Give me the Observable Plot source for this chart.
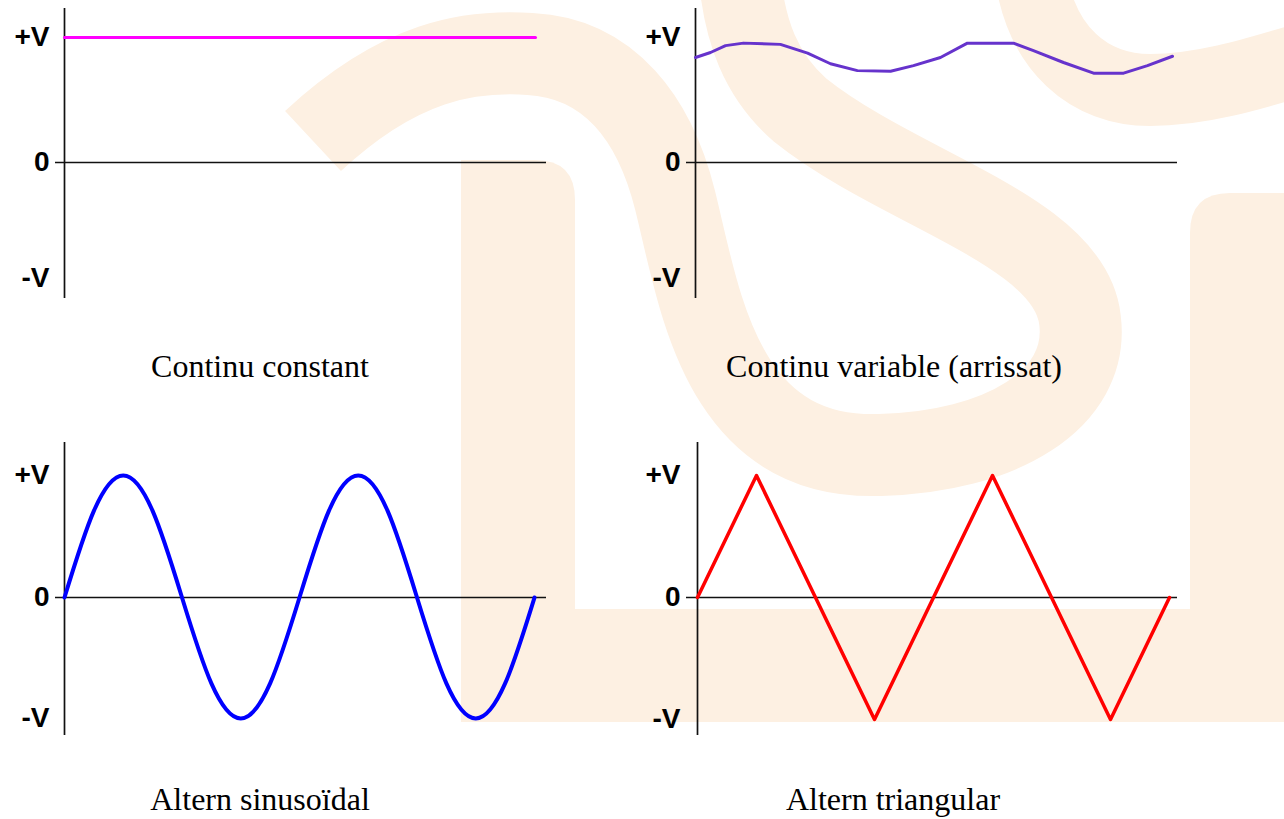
<!DOCTYPE html>
<html>
<head>
<meta charset="utf-8">
<script src="https://cdn.jsdelivr.net/npm/d3@7"></script>
<script src="https://cdn.jsdelivr.net/npm/@observablehq/plot@0.6"></script>
<style>
  html, body { margin: 0; padding: 0; background: #ffffff; }
  #root { position: relative; width: 1284px; height: 819px; overflow: hidden; background: #ffffff; }
  #root > svg.bg { position: absolute; left: 0; top: 0; }
  .panel { position: absolute; }
  .panel svg { overflow: visible; }
  .panel [aria-label="y-axis tick label"] text { font-family: "Liberation Sans", Arial, sans-serif; font-weight: bold; font-size: 28px; fill: #000; }
  .caption { font-family: "Liberation Serif", "Times New Roman", serif; font-size: 32px; fill: #000; }
</style>
</head>
<body>
<div id="root"></div>
<script>
// ---- data ----
const panelTitles = ["Continu constant", "Continu variable (arrissat)", "Altern sinusoïdal", "Altern triangular"];
const tickValues = [1, 0, -1];
const tickLabels = ["+V", "0", "-V"];

// Continu constant
const constT = [0, 2];
const constV = [1, 1];

// Continu variable (arrissat)
const rippleT = [0, 0.063, 0.126, 0.201, 0.356, 0.470, 0.566, 0.679, 0.818, 0.914, 1.027, 1.140, 1.333, 1.417, 1.543, 1.669, 1.795, 1.895, 2.0];
const rippleV = [0.84, 0.88, 0.935, 0.955, 0.945, 0.875, 0.79, 0.735, 0.73, 0.775, 0.84, 0.955, 0.955, 0.895, 0.80, 0.715, 0.715, 0.775, 0.85];

// Altern sinusoidal
const sineT = [0, 0.125, 0.25, 0.375, 0.5, 0.625, 0.75, 0.875, 1, 1.125, 1.25, 1.375, 1.5, 1.625, 1.75, 1.875, 2];
const sineV = [0, 0.71, 1, 0.71, 0, -0.71, -1, -0.71, 0, 0.71, 1, 0.71, 0, -0.71, -1, -0.71, 0];

// Altern triangular
const triT = [0, 0.25, 0.75, 1.25, 1.75, 2];
const triV = [0, 1, -1, 1, -1, 0];

const toRows = (t, v) => t.map((d, i) => ({t: d, v: v[i]}));

// ---- background watermark + captions ----
const root = document.getElementById("root");
const NS = "http://www.w3.org/2000/svg";
const bg = document.createElementNS(NS, "svg");
bg.setAttribute("class", "bg");
bg.setAttribute("width", 1284);
bg.setAttribute("height", 819);
const peach = "#fdf0e2";
bg.innerHTML = `
  <g fill="${peach}" stroke="none">
    <path d="M461,722 L461,160 L535,160 Q575,160 575,200 L575,722 Z"/>
    <rect x="461" y="609" width="823" height="113"/>
    <path d="M1284,722 L1190,722 L1190,233 Q1190,193 1230,193 L1284,193 Z"/>
  </g>
  <g fill="none" stroke="${peach}" stroke-width="82">
    <path d="M313,141 C400,60 470,50 530,54 C610,58 655,120 675,200 C700,300 720,460 880,455 C1000,452 1090,400 1080,320 C1070,230 900,190 800,110 C760,75 745,30 740,-20"/>
    <path stroke-width="72" d="M1030,-30 C1040,50 1090,90 1150,90 C1200,90 1250,75 1300,60"/>
  </g>
`;
const captionPos = [[260, 377], [894, 377], [260, 810], [893, 810]];
panelTitles.forEach((txt, i) => {
  const el = document.createElementNS(NS, "text");
  el.setAttribute("class", "caption");
  el.setAttribute("x", captionPos[i][0]);
  el.setAttribute("y", captionPos[i][1]);
  el.setAttribute("text-anchor", "middle");
  el.textContent = txt;
  bg.appendChild(el);
});
root.appendChild(bg);

// ---- panels ----
function panel({rows, stroke, strokeWidth, curve, left, top, xRange, yRange, marginTop, marginBottom}) {
  const chart = Plot.plot({
    width: 560,
    height: 310,
    marginLeft: 55,
    marginRight: 14,
    marginTop,
    marginBottom,
    style: {background: "transparent", overflow: "visible"},
    x: {type: "linear", domain: [0, 2], range: xRange, axis: null},
    y: {type: "linear", domain: [-1, 0, 1], range: yRange, axis: null},
    marks: [
      Plot.ruleY([0], {stroke: "#111", strokeWidth: 1.7}),
      Plot.ruleX([0], {stroke: "#111", strokeWidth: 1.7}),
      Plot.axisY(tickValues, {
        anchor: "left",
        label: null,
        tickSize: 0,
        tickPadding: 6,
        tickFormat: d => tickLabels[tickValues.indexOf(d)],
        fontSize: 28,
        fontWeight: "bold",
        fontFamily: "Liberation Sans"
      }),
      Plot.line(rows, {x: "t", y: "v", stroke, strokeWidth, curve, strokeLinejoin: "round"})
    ]
  });
  const wrap = document.createElement("div");
  wrap.className = "panel";
  wrap.style.left = left + "px";
  wrap.style.top = top + "px";
  wrap.appendChild(chart);
  root.appendChild(wrap);
}

panel({rows: toRows(constT, constV), stroke: "#ff00ff", strokeWidth: 3, curve: "linear",
  left: 0, top: 0, xRange: [64, 535], yRange: [278, 162, 37], marginTop: 8, marginBottom: 12});
panel({rows: toRows(rippleT, rippleV), stroke: "#6633cc", strokeWidth: 3, curve: "linear",
  left: 631, top: 0, xRange: [64, 541], yRange: [278, 162, 37], marginTop: 8, marginBottom: 12});
panel({rows: toRows(sineT, sineV), stroke: "#0000ff", strokeWidth: 4, curve: "natural",
  left: 0, top: 435, xRange: [64, 534], yRange: [283, 162, 40], marginTop: 7, marginBottom: 10});
panel({rows: toRows(triT, triV), stroke: "#ff0000", strokeWidth: 3.5, curve: "linear",
  left: 631, top: 435, xRange: [66, 538], yRange: [284, 162, 40], marginTop: 7, marginBottom: 10});
</script>
</body>
</html>
